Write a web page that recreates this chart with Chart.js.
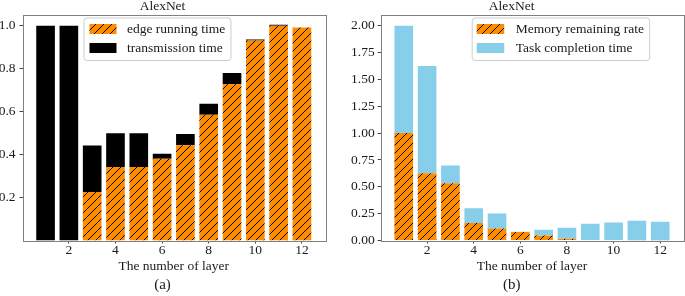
<!DOCTYPE html>
<html>
<head>
<meta charset="utf-8">
<script src="https://cdn.jsdelivr.net/npm/chart.js@4.4.0/dist/chart.umd.min.js"></script>
<style>
  html, body { margin: 0; padding: 0; background: #fff; }
  #wrap { position: relative; width: 685px; height: 296px; overflow: hidden; }
  .box { position: absolute; top: 0; height: 296px; }
  #boxA { left: 0; width: 340px; }
  #boxB { left: 340px; width: 345px; }
</style>
</head>
<body>
<div id="wrap">
  <div class="box" id="boxA"><canvas id="chartA" width="340" height="296"></canvas></div>
  <div class="box" id="boxB"><canvas id="chartB" width="345" height="296"></canvas></div>
</div>
<script>
// dados
const layers = [1, 2, 3, 4, 5, 6, 7, 8, 9, 10, 11, 12];
const xTicks = [2, 4, 6, 8, 10, 12];

// (a)
const edgeRunning = [0, 0, 0.226, 0.342, 0.342, 0.381, 0.443, 0.585, 0.727, 0.931, 1.0, 0.992];
const transmission = [1.0, 1.0, 0.216, 0.157, 0.157, 0.023, 0.053, 0.052, 0.053, 0.005, 0.005, 0.0];
const yTicksA = [0.2, 0.4, 0.6, 0.8, 1.0];

// (b)
const memoryRemaining = [1.0, 0.627, 0.534, 0.162, 0.112, 0.078, 0.047, 0.016, 0.004, 0.004, 0.002, 0.002];
const taskCompletion = [1.0, 0.998, 0.164, 0.139, 0.139, 0.003, 0.052, 0.102, 0.151, 0.164, 0.181, 0.172];
const yTicksB = [0, 0.25, 0.5, 0.75, 1.0, 1.25, 1.5, 1.75, 2.0];

const ORANGE = '#ff8c00';
const BLUE = '#87ceeb';
const TXT = '#1a1a1a';
const FONT = "'Liberation Serif', 'Times New Roman', serif";

Chart.defaults.font.family = FONT;
Chart.defaults.color = TXT;

function hatch(color) {
    const s = 8;
    const c = document.createElement('canvas');
    c.width = s; c.height = s;
    const g = c.getContext('2d');
    g.fillStyle = color;
    g.fillRect(0, 0, s, s);
    g.strokeStyle = '#000';
    g.lineWidth = 1;
    g.beginPath();
    g.moveTo(0, s); g.lineTo(s, 0);
    g.moveTo(-1, 1); g.lineTo(1, -1);
    g.moveTo(s - 1, s + 1); g.lineTo(s + 1, s - 1);
    g.stroke();
    return g.createPattern(c, 'repeat');
}

const toPoints = arr => arr.map((v, i) => ({ x: layers[i], y: v }));

// moldura dos eixos (4 lados)
const frame = {
    id: 'frame',
    afterDatasetsDraw(chart) {
        const { ctx, chartArea: a } = chart;
        ctx.save();
        ctx.strokeStyle = '#808080';
        ctx.lineWidth = 1;
        ctx.strokeRect(Math.round(a.left) + 0.5, Math.round(a.top) + 0.5,
            Math.round(a.right - a.left), Math.round(a.bottom - a.top));
        ctx.restore();
    }
};

// legenda dentro da area do grafico
const boxLegend = {
    id: 'boxLegend',
    afterDraw(chart, args, o) {
        const { ctx, chartArea: a } = chart;
        const x = a.left + o.x, y = a.top + o.y;
        ctx.save();
        ctx.beginPath();
        ctx.roundRect(x + 0.5, y + 0.5, o.w, o.h, 3);
        ctx.fillStyle = 'rgba(255,255,255,0.8)';
        ctx.fill();
        ctx.strokeStyle = '#cccccc';
        ctx.lineWidth = 1;
        ctx.stroke();
        ctx.font = `13.5px ${FONT}`;
        ctx.textBaseline = 'middle';
        chart.data.datasets.forEach((ds, i) => {
            const cy = y + o.row0 + i * o.rowGap;
            ctx.fillStyle = ds.backgroundColor;
            ctx.fillRect(x + o.hx, cy - 5, o.hw, 10);
            ctx.fillStyle = TXT;
            ctx.fillText(ds.label, x + o.tx, cy);
        });
        ctx.restore();
    }
};

function montarGrafico(id, cfg) {
    const ctx = document.getElementById(id).getContext('2d');
    return new Chart(ctx, {
        type: 'bar',
        data: {
            datasets: cfg.series.map(s => ({
                label: s.label,
                data: toPoints(s.data),
                backgroundColor: s.color,
                borderWidth: 0,
                barPercentage: 0.8,
                categoryPercentage: 1.0
            }))
        },
        options: {
            responsive: false,
            animation: false,
            layout: { padding: { left: 0, right: cfg.padRight, top: 0, bottom: 0 } },
            plugins: {
                legend: { display: false },
                tooltip: { enabled: false },
                title: {
                    display: true, text: 'AlexNet', color: TXT,
                    font: { size: 13.5, weight: 'normal', lineHeight: 1 },
                    padding: { top: 0, bottom: 1.5 }
                },
                subtitle: {
                    display: true, position: 'bottom', text: cfg.caption, color: TXT,
                    font: { size: 15, weight: 'normal', lineHeight: 1.2 },
                    padding: { top: 0, bottom: 2 }
                },
                boxLegend: cfg.legend
            },
            scales: {
                x: {
                    type: 'linear', stacked: true, min: 0.01, max: 12.99, offset: false,
                    afterBuildTicks: s => { s.ticks = xTicks.map(v => ({ value: v })); },
                    afterFit: s => { s.height = 35.5; },
                    grid: { offset: false, drawOnChartArea: false, drawTicks: true, tickLength: 3, color: '#444' },
                    border: { display: false },
                    ticks: { padding: 0.5, autoSkip: false, maxRotation: 0, color: TXT,
                        font: { size: 13.5, lineHeight: 1 } },
                    title: { display: true, text: 'The number of layer', color: TXT,
                        font: { size: 13.5, lineHeight: 1.2 }, padding: { top: 0, bottom: 1 } }
                },
                y: {
                    stacked: true, min: 0, max: cfg.yMax,
                    afterBuildTicks: s => { s.ticks = cfg.yTicks.map(v => ({ value: v })); },
                    afterFit: s => { s.width = cfg.yWidth; },
                    grid: { drawOnChartArea: false, drawTicks: true, tickLength: 3, color: '#444' },
                    border: { display: false },
                    ticks: { padding: cfg.yPad, color: TXT, font: { size: 13.5 },
                        callback: v => v.toFixed(cfg.decimals) }
                }
            }
        },
        plugins: [frame, boxLegend]
    });
}

montarGrafico('chartA', {
    series: [
        { label: 'edge running time', data: edgeRunning, color: hatch(ORANGE) },
        { label: 'transmission time', data: transmission, color: '#000000' }
    ],
    caption: '(a)', padRight: 15, yWidth: 22.5, yPad: 4, yMax: 1.05, yTicks: yTicksA, decimals: 1,
    legend: { x: 61, y: 2.5, w: 147, h: 42.5, hx: 6, hw: 27, tx: 43.5, row0: 11.5, rowGap: 19 }
});

montarGrafico('chartB', {
    series: [
        { label: 'Memory remaining rate', data: memoryRemaining, color: hatch(ORANGE) },
        { label: 'Task completion time', data: taskCompletion, color: BLUE }
    ],
    caption: '(b)', padRight: 1.7, yWidth: 40.7, yPad: 3, yMax: 2.1, yTicks: yTicksB, decimals: 2,
    legend: { x: 91, y: 2.5, w: 177.5, h: 42.5, hx: 5, hw: 27.5, tx: 44, row0: 11.5, rowGap: 19 }
});
</script>
</body>
</html>
